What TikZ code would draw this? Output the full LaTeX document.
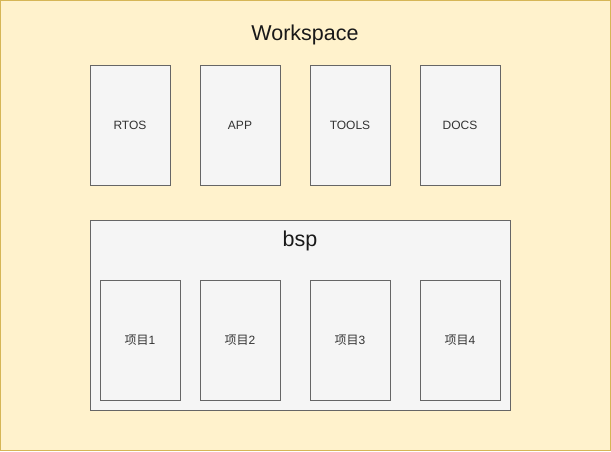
\documentclass[tikz,border=0pt]{standalone}
\usepackage{fontspec}
\setmainfont{Liberation Sans}
\newfontfamily\cjk{Noto Sans CJK SC}
\usetikzlibrary{positioning}
\definecolor{PaperYellow}{HTML}{FFF2CC}
\definecolor{PaperEdge}{HTML}{D6B656}
\definecolor{BoxGray}{HTML}{F5F5F5}
\definecolor{BoxEdge}{HTML}{666666}
\definecolor{LabelGray}{HTML}{333333}

\begin{document}
\begin{tikzpicture}[
        x=1pt, y=-1pt,
        node distance=30pt,
        module/.style={rectangle, draw=BoxEdge, fill=BoxGray, line width=1pt, outer sep=0pt, minimum width=80pt, minimum height=120pt, inner sep=0pt, text=LabelGray, font=\fontsize{12}{14}\selectfont},
        group/.style={rectangle, draw=BoxEdge, fill=BoxGray, line width=1pt, outer sep=0pt, minimum width=420pt, minimum height=190pt, inner sep=0pt},
        heading/.style={text=black!90, font=\fontsize{21.5}{25}\selectfont, inner sep=0pt}
    ]
        \useasboundingbox (0,0) rectangle (611,451);
        \draw [fill=PaperYellow, draw=PaperEdge, line width=1pt] (0.5,0.5) rectangle (610.5,450.5);
        \node [heading] (ws) at (305,35) {Workspace};

        % top row
        \node [module] (rtos) at (130,125) {RTOS};
        \node [module, right=of rtos] (app) {APP};
        \node [module, right=of app] (tools) {TOOLS};
        \node [module, right=of tools] (docs) {DOCS};

        % bsp group
        \node [group] (bsp) at (300,315) {};
        \node [heading] (bsptitle) at (300,241) {bsp};
        \node [module] (p1) at (140,340) {{\cjk 项目}1};
        \node [module, right=20pt of p1] (p2) {{\cjk 项目}2};
        \node [module, right=of p2] (p3) {{\cjk 项目}3};
        \node [module, right=of p3] (p4) {{\cjk 项目}4};
    \end{tikzpicture}
\end{document}
